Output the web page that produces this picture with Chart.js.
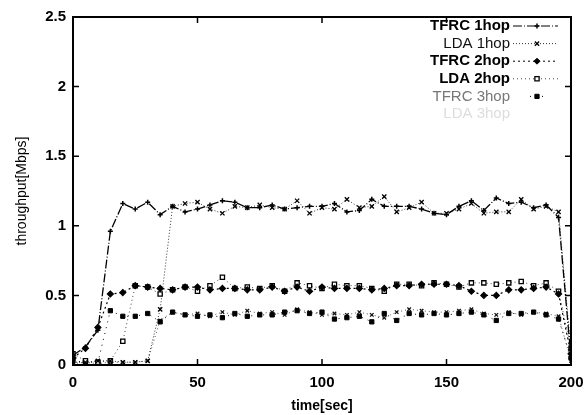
<!DOCTYPE html>
<html>
<head>
<meta charset="utf-8">
<script src="https://cdn.jsdelivr.net/npm/chart.js@4/dist/chart.umd.min.js"></script>
<style>
  body { margin: 0; background: #fff; }
  #wrap { width: 585px; height: 415px; }
</style>
</head>
<body>
<div id="wrap"><canvas id="myChart" width="585" height="415"></canvas></div>
<script>
// time axis, one sample every 5 sec
const times = [0,5,10,15,20,25,30,35,40,45,50,55,60,65,70,75,80,85,90,95,100,105,110,115,120,125,130,135,140,145,150,155,160,165,170,175,180,185,190,195,200];

const tfrc1 = [0.07,0.13,0.25,0.96,1.16,1.12,1.17,1.08,1.14,1.10,1.12,1.15,1.18,1.17,1.13,1.13,1.15,1.12,1.13,1.14,1.14,1.16,1.10,1.11,1.19,1.14,1.14,1.14,1.12,1.09,1.08,1.14,1.18,1.11,1.20,1.16,1.17,1.13,1.15,1.06,0.05];
const lda1  = [0.02,0.02,0.03,0.03,0.02,0.02,0.03,0.40,1.14,1.16,1.17,1.12,1.09,1.14,1.13,1.15,1.13,1.12,1.18,1.09,1.13,1.12,1.19,1.13,1.14,1.21,1.10,1.13,1.17,1.09,1.09,1.12,1.16,1.09,1.10,1.10,1.19,1.12,1.14,1.10,0.10];
const tfrc2 = [0.05,0.12,0.27,0.51,0.52,0.57,0.56,0.55,0.54,0.56,0.56,0.54,0.55,0.55,0.54,0.54,0.56,0.53,0.56,0.53,0.56,0.55,0.55,0.55,0.54,0.55,0.57,0.57,0.58,0.58,0.58,0.57,0.53,0.50,0.50,0.54,0.54,0.55,0.56,0.51,0.08];
const lda2  = [0.08,0.03,0.02,0.03,0.17,0.57,0.56,0.51,0.54,0.56,0.53,0.57,0.63,0.55,0.56,0.55,0.57,0.53,0.59,0.57,0.55,0.58,0.57,0.57,0.55,0.53,0.58,0.58,0.57,0.59,0.58,0.56,0.59,0.59,0.58,0.59,0.60,0.57,0.59,0.53,0.12];
const tfrc3 = [0.03,0.02,0.02,0.39,0.35,0.35,0.37,0.31,0.38,0.36,0.35,0.36,0.34,0.37,0.35,0.36,0.36,0.38,0.39,0.37,0.38,0.33,0.34,0.35,0.31,0.37,0.32,0.37,0.36,0.37,0.36,0.37,0.38,0.36,0.32,0.37,0.37,0.38,0.36,0.33,0.05];
const lda3  = [0.01,0.02,0.01,0.02,0.02,0.02,0.03,0.32,0.38,0.36,0.37,0.35,0.38,0.36,0.39,0.37,0.38,0.36,0.40,0.38,0.36,0.37,0.36,0.38,0.36,0.34,0.38,0.40,0.39,0.38,0.38,0.39,0.40,0.37,0.36,0.38,0.36,0.38,0.37,0.35,0.03];

const seriesNames = ['TFRC 1hop','LDA 1hop','TFRC 2hop','LDA 2hop','TFRC 3hop','LDA 3hop'];
const xTicks = [0,50,100,150,200];
const yTicks = [0,0.5,1,1.5,2,2.5];

function pts(vals) {
  return vals.map((v, i) => ({x: times[i], y: v}));
}

const FONT = 'Liberation Sans, Arial, sans-serif';

// legend drawn like gnuplot: right aligned text with a line sample behind
const gnuLegend = {
  id: 'gnuLegend',
  afterDatasetsDraw(chart) {
    const ctx = chart.ctx;
    const textColors = ['#000','#111','#000','#000','#777','#ddd'];
    ctx.save();
    chart.data.datasets.forEach((ds, i) => {
      const y = 26 + i * 17.6;
      ctx.font = (i === 1 || i >= 4 ? '' : 'bold ') + '15px ' + FONT;
      ctx.fillStyle = textColors[i];
      ctx.textAlign = 'right';
      ctx.textBaseline = 'middle';
      ctx.fillText(ds.label, 510, y);
      if (i < 5) {
        ctx.strokeStyle = ds.borderColor;
        ctx.lineWidth = 1;
        ctx.setLineDash(ds.borderDash || []);
        ctx.beginPath();
        ctx.moveTo(i === 4 ? 530 : 513, y);
        ctx.lineTo(i === 4 ? 545 : 558, y);
        ctx.stroke();
        ctx.setLineDash([]);
        ctx.fillStyle = ds.pointBackgroundColor || '#000';
        ctx.strokeStyle = ds.pointBorderColor || '#000';
        ctx.lineWidth = ds.pointBorderWidth || 1;
        Chart.helpers.drawPoint(ctx, {pointStyle: ds.pointStyle, radius: ds.pointRadius, rotation: 0,
                                      borderWidth: ds.pointBorderWidth || 1}, 537, y);
      }
    });
    ctx.restore();
  }
};

// frame with inward ticks on all sides
const frame = {
  id: 'frame',
  afterDraw(chart) {
    const ctx = chart.ctx;
    const a = chart.chartArea;
    const xs = chart.scales.x, ys = chart.scales.y;
    ctx.save();
    ctx.strokeStyle = '#000';
    ctx.lineWidth = 2;
    ctx.strokeRect(a.left, a.top, a.right - a.left, a.bottom - a.top);
    ctx.lineWidth = 1.5;
    ctx.beginPath();
    xTicks.forEach(t => {
      const px = xs.getPixelForValue(t);
      ctx.moveTo(px, a.bottom); ctx.lineTo(px, a.bottom - 6);
      ctx.moveTo(px, a.top); ctx.lineTo(px, a.top + 6);
    });
    yTicks.forEach(t => {
      const py = ys.getPixelForValue(t);
      ctx.moveTo(a.left, py); ctx.lineTo(a.left + 6, py);
      ctx.moveTo(a.right, py); ctx.lineTo(a.right - 6, py);
    });
    ctx.stroke();
    ctx.restore();
  }
};

const ctx = document.getElementById('myChart').getContext('2d');
const myChart = new Chart(ctx, {
  type: 'line',
  data: {
    datasets: [
      {label: seriesNames[0], data: pts(tfrc1), borderColor: '#000', borderWidth: 1.3, borderDash: [9, 2, 1, 2],
       pointStyle: 'cross', pointRadius: 2.5, pointBorderColor: '#000', pointBorderWidth: 1.5},
      {label: seriesNames[1], data: pts(lda1), borderColor: '#333', borderWidth: 1, borderDash: [1, 2],
       pointStyle: 'crossRot', pointRadius: 3, pointBorderColor: '#000', pointBorderWidth: 1.3},
      {label: seriesNames[2], data: pts(tfrc2), borderColor: '#000', borderWidth: 1.2, borderDash: [2, 3],
       pointStyle: 'rectRot', pointRadius: 3, pointBackgroundColor: '#000', pointBorderColor: '#000'},
      {label: seriesNames[3], data: pts(lda2), borderColor: '#444', borderWidth: 1, borderDash: [1, 3],
       pointStyle: 'rect', pointRadius: 3, pointBackgroundColor: '#fff', pointBorderColor: '#000', pointBorderWidth: 1.3},
      {label: seriesNames[4], data: pts(tfrc3), borderColor: '#000', borderWidth: 1, borderDash: [1, 5],
       pointStyle: 'rect', pointRadius: 3, pointBackgroundColor: '#000', pointBorderColor: '#000'},
      {label: seriesNames[5], data: pts(lda3), borderColor: '#555', borderWidth: 1, borderDash: [1, 3],
       pointStyle: 'crossRot', pointRadius: 2.5, pointBorderColor: '#111', pointBorderWidth: 1.3}
    ]
  },
  options: {
    responsive: false,
    animation: false,
    layout: {padding: {top: 17, right: 14, left: 0, bottom: 0}},
    plugins: {legend: {display: false}, tooltip: {enabled: false}},
    scales: {
      x: {
        type: 'linear', min: 0, max: 200,
        afterBuildTicks: s => { s.ticks = xTicks.map(v => ({value: v})); },
        afterFit: s => { s.height = 50; s.paddingLeft = 0; s.paddingRight = 0; },
        grid: {display: false, drawTicks: false},
        border: {display: false},
        ticks: {padding: 9, color: '#000', font: {family: FONT, size: 15, weight: 'bold'},
                callback: v => String(v)},
        title: {display: true, text: 'time[sec]', color: '#000', padding: {top: 0, bottom: 0},
                font: {family: FONT, size: 14, weight: 'bold'}}
      },
      y: {
        type: 'linear', min: 0, max: 2.5,
        afterBuildTicks: s => { s.ticks = yTicks.map(v => ({value: v})); },
        afterFit: s => { s.width = 73; s.paddingTop = 0; s.paddingBottom = 0; },
        grid: {display: false, drawTicks: false},
        border: {display: false},
        ticks: {padding: 7, color: '#000', font: {family: FONT, size: 15, weight: 'bold'},
                callback: v => String(v)},
        title: {display: true, text: 'throughput[Mbps]', color: '#000', padding: {top: 14, bottom: 0},
                font: {family: FONT, size: 14}}
      }
    }
  },
  plugins: [gnuLegend, frame]
});
</script>
</body>
</html>
